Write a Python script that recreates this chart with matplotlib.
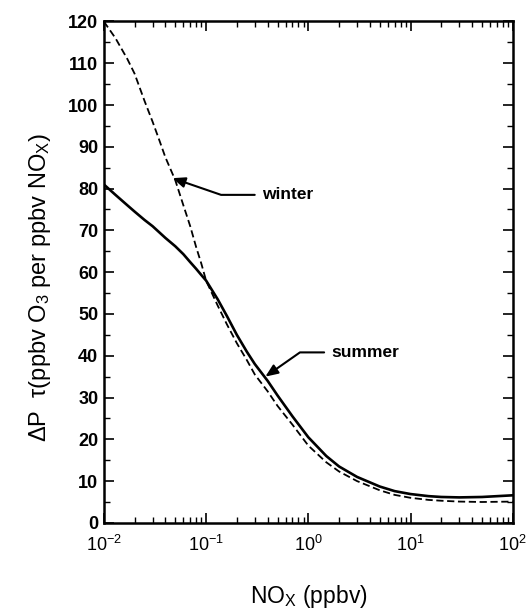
import matplotlib.pyplot as plt
import numpy as np

plt.rcParams['font.family'] = ['Liberation Sans', 'DejaVu Sans']
plt.rcParams['mathtext.fontset'] = 'custom'
plt.rcParams['mathtext.rm'] = 'Liberation Sans'
plt.rcParams['mathtext.default'] = 'regular'

# NOx (ppbv)
nox = [0.01, 0.013, 0.017, 0.02, 0.025, 0.03, 0.035, 0.04, 0.05, 0.06, 0.07, 0.08, 0.09,
       0.1, 0.13, 0.16, 0.2, 0.25, 0.3, 0.4, 0.5, 0.7, 1, 1.5, 2, 3, 5, 7, 10, 15, 20, 30, 50, 100]
summer = [81, 78.5, 76, 74.5, 72.5, 71, 69.5, 68.2, 66.2, 64.3, 62.4, 60.8, 59.3,
          58, 53.5, 49.5, 45, 41, 38, 34, 30.5, 25.5, 20.5, 16, 13.5, 11, 8.7, 7.6, 6.9, 6.4, 6.2, 6.1, 6.2, 6.6]
winter = [120, 116, 111, 107.5, 101, 96, 91.5, 87.5, 82, 76, 71, 66, 62,
          58, 52, 47.5, 43, 39, 35.5, 31.5, 28, 23.5, 18.5, 14.5, 12.3, 10, 7.8, 6.7, 6.0, 5.5, 5.3, 5.1, 5.0, 5.1]

yticks = np.arange(0, 121, 10)
xticks = [1e-2, 1e-1, 1e0, 1e1, 1e2]
xticklabels = ['10$^{-2}$', '10$^{-1}$', '10$^{0}$', '10$^{1}$', '10$^{2}$']

fig = plt.figure(figsize=(5.27, 6.13), dpi=100)
ax = fig.add_axes([0.197, 0.147, 0.776, 0.818])

ax.plot(nox, summer, color='black', lw=1.9, solid_joinstyle='round')
ax.plot(nox, winter, color='black', lw=1.3, dashes=(4, 2))

ax.set_xscale('log')
ax.set_xlim(1e-2, 1e2)
ax.set_ylim(0, 120)
ax.set_yticks(yticks)
ax.set_yticks(np.arange(5, 120, 10), minor=True)
ax.set_xticks(xticks)
ax.set_xticklabels(xticklabels)
for lab in ax.get_yticklabels():
    lab.set_fontweight('bold')

ax.tick_params(which='both', direction='in', top=True, right=True, labelsize=13)
ax.tick_params(which='major', length=7, width=1.2)
ax.tick_params(which='minor', length=4, width=1.0)
ax.tick_params(axis='x', which='major', pad=9)
ax.tick_params(axis='y', which='major', pad=4)
for s in ax.spines.values():
    s.set_linewidth(1.8)

ax.set_ylabel('ΔP  τ(ppbv O$_3$ per ppbv NO$_X$)', fontsize=17)
ax.yaxis.set_label_coords(-0.125, 0.47)
ax.set_xlabel('NO$_X$ (ppbv)', fontsize=16.5, labelpad=20)

arrow = dict(arrowstyle='-|>,head_length=0.6,head_width=0.25', color='black', lw=1.5,
             shrinkA=3, shrinkB=0, relpos=(0, 0.5))
ax.annotate('winter', xy=(0.047, 82.5), xytext=(0.35, 78.5), fontsize=12.5, fontweight='bold',
            ha='left', va='center',
            arrowprops=dict(arrow, connectionstyle='angle,angleA=0,angleB=-19,rad=0'))
ax.annotate('summer', xy=(0.38, 35), xytext=(1.67, 40.8), fontsize=12.5, fontweight='bold',
            ha='left', va='center',
            arrowprops=dict(arrow, connectionstyle='angle,angleA=0,angleB=35,rad=0'))

fig.savefig('out.png', dpi=100)
